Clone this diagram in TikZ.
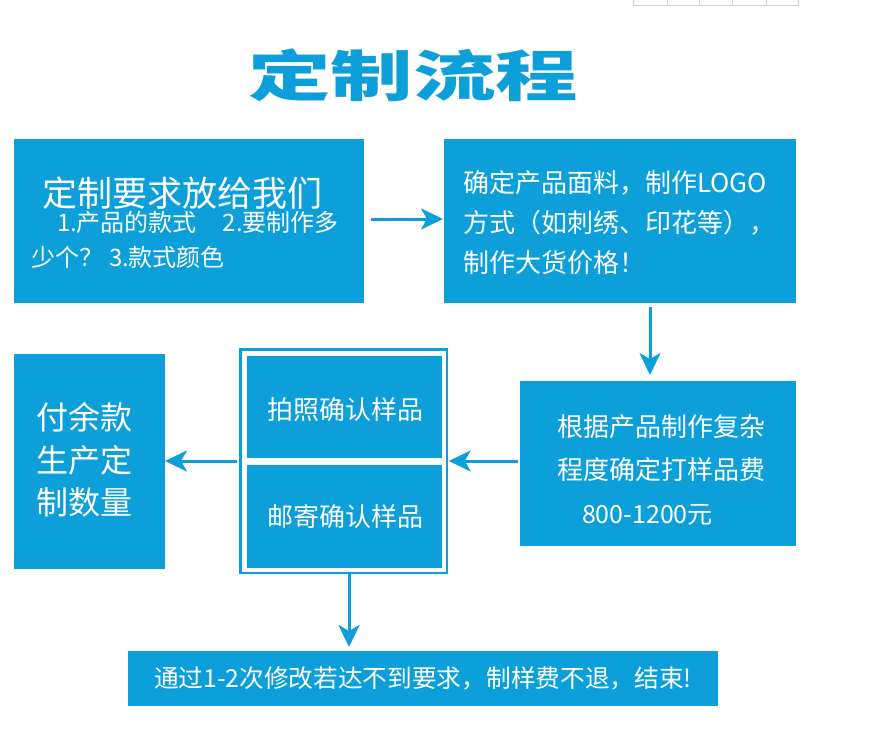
\documentclass[tikz,border=0pt]{standalone}
\usepackage{fontspec}
\newfontfamily\cjk{Noto Sans CJK SC}
\usetikzlibrary{arrows.meta,calc}
\definecolor{cblue}{RGB}{13,159,218}
\definecolor{tgray}{RGB}{212,212,212}
\newcommand{\fsz}[1]{\fontsize{#1}{#1}\selectfont}
\begin{document}
\begin{tikzpicture}[x=1pt,y=-1pt,
  box/.style={fill=cblue, draw=none, inner sep=0pt, outer sep=0pt},
  txt/.style={anchor=base west, inner sep=0pt, outer sep=0pt, text=white},
  arr/.style={draw=cblue, line width=3pt, -{Stealth[length=22pt,width=21pt,inset=6pt]}}]
\fill[white] (0,0) rectangle (870,739);
\useasboundingbox (0,0) rectangle (870,739);
% faint table fragment at top right
\draw[tgray, line width=1pt] (633,0) -- (633,5) -- (798,5) -- (798,0);
\foreach \xx in {667,699,732,766} \draw[tgray, line width=1pt] (\xx,0) -- (\xx,5);
% title
\node[anchor=base, inner sep=0pt, text=cblue, font=\cjk\bfseries\fsz{55}] (title) at (413,96.5) {\scalebox{1.5}[1]{定制流程}};
% boxes
\node[box, minimum width=350pt, minimum height=164pt] (b1) at (189,221) {};
\node[box, minimum width=352pt, minimum height=164pt] (b2) at (620,221) {};
\node[box, minimum width=276pt, minimum height=165pt] (b3) at (658,463.5) {};
\node[draw=cblue, line width=2.5pt, fill=white, inner sep=0pt, outer sep=0pt, minimum width=206.5pt, minimum height=223.5pt] (frame) at (343.5,461) {};
\node[box, minimum width=195pt, minimum height=102pt] (in1) at (344.5,407) {};
\node[box, minimum width=195pt, minimum height=103pt] (in2) at (344.5,516.5) {};
\node[box, minimum width=151pt, minimum height=215pt] (b4) at (89.5,461.5) {};
\node[box, minimum width=590pt, minimum height=55pt] (b5) at (423,678.5) {};
% texts
\node[txt, font=\cjk\fsz{35}] (t11) at (42,206.5) {定制要求放给我们};
\node[txt, font=\cjk\fsz{24}] (t12) at (57,231.5) {1.产品的款式\hspace{26pt}2.要制作多};
\node[txt, font=\cjk\fsz{24}] (t13) at (31,266) {少个？\hspace{6pt}3.款式颜色};
\node[txt, font=\cjk\fsz{26}] (t21) at (463,192) {确定产品面料，制作LOGO};
\node[txt, font=\cjk\fsz{26}] (t22) at (463,232) {方式（如刺绣、印花等），};
\node[txt, font=\cjk\fsz{26}] (t23) at (463,272) {制作大货价格！};
\node[txt, font=\cjk\fsz{26}] (t31) at (557,436.4) {根据产品制作复杂};
\node[txt, font=\cjk\fsz{26}] (t32) at (557,479.4) {程度确定打样品费};
\node[txt, font=\cjk\fsz{25}] (t33) at (582,523.4) {800-1200元};
\node[txt, font=\cjk\fsz{26}] (t41) at (267,419.4) {拍照确认样品};
\node[txt, font=\cjk\fsz{26}] (t42) at (267,526.4) {邮寄确认样品};
\node[txt, font=\cjk\fsz{32}] (t51) at (36,429.5) {付余款};
\node[txt, font=\cjk\fsz{32}] (t52) at (36,472.5) {生产定};
\node[txt, font=\cjk\fsz{32}] (t53) at (36,514.5) {制数量};
\node[txt, font=\cjk\fsz{24.7}] (t6) at (154,687) {通过1-2次修改若达不到要求，制样费不退，结束!};
% arrows
\draw[arr] ([xshift=7pt,yshift=2pt]b1.east) -- ([xshift=-1pt,yshift=2pt]b2.west);
\draw[arr] ([xshift=30pt,yshift=-4pt]b2.south) -- ([xshift=-8pt,yshift=6pt]b3.north);
\draw[arr] ([xshift=-2pt,yshift=2.5pt]b3.west) -- ([xshift=2pt]frame.east);
\draw[arr] ([xshift=-3pt]frame.west) -- (frame.west -| b4.east);
\draw[arr] ([xshift=5.5pt,yshift=-1pt]frame.south) -- ([xshift=-74pt,yshift=4pt]b5.north);
\end{tikzpicture}
\end{document}
